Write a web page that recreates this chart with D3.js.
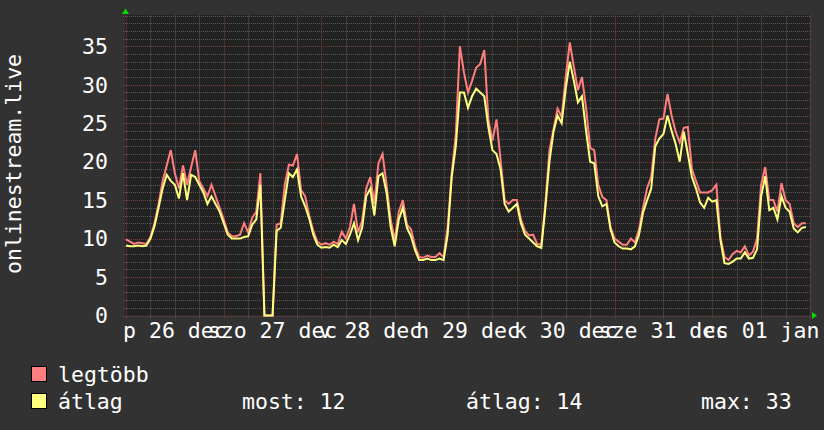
<!DOCTYPE html>
<html><head><meta charset="utf-8">
<script src="https://cdn.jsdelivr.net/npm/d3@7"></script>
<style>
html,body{margin:0;padding:0;background:#323232;}
svg{display:block;}
text{font-family:"DejaVu Sans Mono",monospace;fill:#ffffff;}
</style></head><body>
<svg id="c" width="824" height="430"></svg>
<script>
// ---- data (hourly, starting Dec 26 00:00) ----
const yTicks = [0,5,10,15,20,25,30,35];
const dayLabels = ["p 26 dec","szo 27 dec","v 28 dec","h 29 dec","k 30 dec","sze 31 dec","cs 01 jan"];
const seriesNames = ["legtöbb","átlag"];
const legendStats = ["most: 12","átlag: 14","max: 33"];
const yTitle = "onlinestream.live";

const maxValues = [
 9.9,9.6,9.3,9.5,9.4,9.3,10.2,12.0,14.5,17.5,19.5,21.5,18.5,16.5,19.5,17.0,19.3,21.5,17.5,16.5,15.5,17.0,15.5,14.0,
 12.5,10.8,10.3,10.3,10.5,12.0,10.8,12.7,13.5,18.5,0,0,0,11.8,12.0,17.0,19.6,19.5,21.0,16.3,15.5,13.0,11.0,9.6,
 9.2,9.4,9.2,9.6,9.3,10.9,10.0,11.5,14.5,10.8,12.3,16.5,18.0,14.5,19.8,21.0,17.0,12.5,9.8,13.5,15.0,11.8,11.2,9.0,
 7.6,7.5,7.8,7.6,7.6,8.1,7.6,11.5,18.5,23.5,35.0,31.6,29.0,30.5,32.2,32.7,34.5,25.5,22.7,25.5,20.2,15.0,14.5,15.0,
 15.0,12.5,11.0,10.4,10.5,9.3,9.2,14.5,21.5,24.2,26.9,25.8,31.0,35.5,32.3,29.3,31.0,27.0,21.8,21.5,17.0,15.4,15.0,11.5,
 10.0,9.6,9.2,9.2,10.0,9.5,11.2,14.0,16.6,18.0,23.0,25.5,25.6,28.8,26.0,23.9,22.5,24.4,24.5,19.0,17.5,16.0,16.0,16.0,
 16.3,17.0,10.2,7.6,7.2,8.0,8.4,8.2,9.0,7.8,8.3,10.0,17.0,19.3,15.0,15.0,13.5,17.2,15.0,14.5,12.0,11.5,12.0,12.0
];
const avgValues = [
 9.1,9.0,9.0,9.1,9.0,9.1,10.0,11.6,14.0,16.5,18.3,17.5,17.0,15.2,18.5,15.0,18.3,18.0,17.0,16.0,14.5,15.5,14.5,13.5,
 12.0,10.5,10.0,10.0,10.0,10.2,10.3,11.8,12.5,17.0,0,0,0,11.0,11.4,15.0,18.5,18.0,19.0,15.5,14.2,12.6,10.5,9.2,
 8.8,8.9,8.8,9.2,8.9,9.8,9.3,10.5,12.0,9.8,11.4,15.5,16.5,13.0,18.1,18.5,16.0,11.5,9.0,12.5,14.0,11.4,10.3,8.5,
 7.2,7.2,7.4,7.2,7.2,7.4,7.2,10.5,18.0,22.0,29.0,29.0,27.0,28.5,29.5,29.0,28.5,24.5,21.5,21.0,19.0,14.5,13.5,14.0,
 14.5,12.0,10.5,10.0,9.5,9.0,8.8,14.0,20.0,23.9,26.0,25.0,29.5,33.0,30.5,27.7,28.5,24.0,20.0,19.8,15.5,14.2,14.5,11.2,
 9.5,9.0,8.7,8.7,8.6,9.0,10.5,13.4,15.0,16.5,22.0,23.0,23.6,26.0,24.0,22.3,20.0,23.9,21.0,18.0,16.5,14.7,14.0,15.3,
 14.8,15.0,9.8,6.8,6.7,7.0,7.4,7.4,8.2,7.4,7.5,8.6,15.5,18.1,13.7,14.0,12.5,15.5,14.0,13.5,11.3,10.8,11.4,11.5
];

// ---- layout ----
const W = 824, H = 430;
const L = 126, R = 810, T = 15.5, B = 315.5;
const col = {bg:"#323232", plot:"#222222", minor:"#5a5a5a", major:"#7a3e3e",
             maxC:"#ff7f7f", avgC:"#ffff7f", arrow:"#00dd00"};

const t0 = Date.UTC(2014,11,26,0,0,0);
const hour = 3600e3;
const x = d3.scaleUtc().domain([new Date(t0), new Date(t0 + 7*24*hour)]).range([L, R]);
const y = d3.scaleLinear().domain([0, 39]).range([B, T]);

const svg = d3.select("#c");
svg.append("rect").attr("width",W).attr("height",H).attr("fill",col.bg);
svg.append("rect").attr("x",L-1).attr("y",T-0.5).attr("width",R-L+1).attr("height",B-T+0.5).attr("fill",col.plot);

const g = svg.append("g");
// horizontal grid
const hMinor = d3.range(0, 40, 1);
hMinor.forEach(v => {
  const yy = Math.round(y(v)) + 0.5;
  const major = v % 5 === 0;
  g.append("line").attr("x1",L-3).attr("x2",R).attr("y1",yy).attr("y2",yy)
    .attr("stroke", major ? col.major : col.minor).attr("stroke-width",1)
    .attr("stroke-dasharray","1,1");
});
// vertical grid (6h minor, 24h major)
for (let hh = 0; hh <= 7*24; hh += 6) {
  const xx = Math.round(x(new Date(t0 + hh*hour))) + 0.5;
  const major = hh % 24 === 0;
  g.append("line").attr("x1",xx).attr("x2",xx).attr("y1",T).attr("y2",B+3)
    .attr("stroke", major ? col.major : col.minor).attr("stroke-width",1)
    .attr("stroke-dasharray","1,1");
}

// series
const pts = arr => arr.map((v,i) => [new Date(t0 + i*hour), v]);
const line = d3.line().x(d => x(d[0])).y(d => y(d[1])).curve(d3.curveLinear);
svg.append("path").attr("d", line(pts(maxValues))).attr("fill","none")
  .attr("stroke",col.maxC).attr("stroke-width",2).attr("stroke-linejoin","miter");
svg.append("path").attr("d", line(pts(avgValues))).attr("fill","none")
  .attr("stroke",col.avgC).attr("stroke-width",2).attr("stroke-linejoin","miter");

// arrows
svg.append("path").attr("d",`M${L-4},${T-1.5} L${L+3},${T-1.5} L${L-0.5},${T-7} Z`).attr("fill",col.arrow);
svg.append("path").attr("d",`M${R+2},${B-3.5} L${R+2},${B+3.5} L${R+7},${B} Z`).attr("fill",col.arrow);

// y tick labels
const FS = 21.5;
svg.append("g").selectAll("text").data(yTicks).join("text")
  .attr("x",108).attr("y",d => y(d) + 7.8).attr("text-anchor","end")
  .attr("font-size",FS).text(d => d);

// x labels (centered at noon)
svg.append("g").selectAll("text").data(dayLabels).join("text")
  .attr("x",(d,i) => x(new Date(t0 + (i*24+12)*hour))).attr("y",338)
  .attr("text-anchor","middle").attr("font-size",FS).text(d => d);

// y title
svg.append("text").attr("transform","translate(20.5,164) rotate(-90)")
  .attr("text-anchor","middle").attr("font-size",FS).text(yTitle);

// legend
const legColors = [col.maxC, col.avgC];
const legY = [366, 393];
seriesNames.forEach((n,i) => {
  svg.append("rect").attr("x",31.5).attr("y",legY[i]+0.5).attr("width",15).attr("height",15)
    .attr("fill",legColors[i]).attr("stroke","#000").attr("stroke-width",1);
  svg.append("text").attr("x",58).attr("y",legY[i]+16).attr("font-size",FS).text(n);
});
const statX = [242, 466, 701];
legendStats.forEach((s,i) => {
  svg.append("text").attr("x",statX[i]).attr("y",legY[1]+16).attr("font-size",FS).text(s);
});
</script>
</body></html>
